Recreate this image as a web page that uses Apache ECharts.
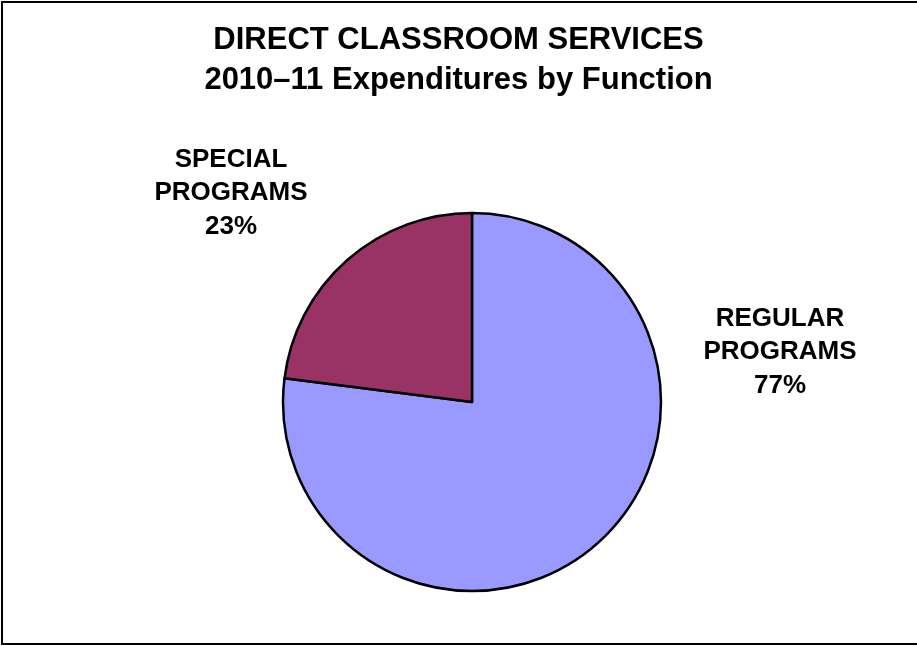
<!DOCTYPE html>
<html>
<head>
<meta charset="utf-8">
<title>Direct Classroom Services</title>
<script src="https://cdn.jsdelivr.net/npm/echarts@6/dist/echarts.min.js"></script>
<style>
  html, body { margin: 0; padding: 0; background: #ffffff; }
  #chart { width: 917px; height: 646px; }
</style>
</head>
<body>
<div id="chart"></div>
<script>
// Expenditure shares by function, 2010–11
var categories = ['REGULAR PROGRAMS', 'SPECIAL PROGRAMS'];
var shares = [77, 23];
var sliceColors = ['#9999FF', '#993366'];

var titleLines = ['DIRECT CLASSROOM SERVICES', '2010\u201311 Expenditures by Function'];

var FONT = 'Arial, "Liberation Sans", Helvetica, sans-serif';

var chart = echarts.init(document.getElementById('chart'), null, { renderer: 'canvas' });

// Label anchors, offset from the pie centre
var pieCenter = [472, 402];
var labelOffsets = [[308, -50], [-241, -209]];

var option = {
  backgroundColor: '#ffffff',
  animation: false,
  title: {
    text: titleLines.join('\n'),
    left: 'center',
    top: 20,
    padding: 0,
    textStyle: {
      fontFamily: FONT,
      fontWeight: 'bold',
      fontSize: 31,
      lineHeight: 40,
      color: '#000000'
    }
  },
  graphic: [{
    type: 'rect',
    silent: true,
    shape: { x: 2, y: 2, width: 940, height: 642 },
    style: { fill: 'none', stroke: '#000000', lineWidth: 2 },
    z: 10
  }],
  series: [{
    type: 'pie',
    center: pieCenter,
    radius: 189,
    startAngle: 90,
    clockwise: true,
    silent: true,
    data: categories.map(function (name, i) {
      return { name: name, value: shares[i], itemStyle: { color: sliceColors[i] } };
    }),
    itemStyle: { borderColor: '#000000', borderWidth: 2.5 },
    label: {
      show: true,
      position: 'outside',
      fontFamily: FONT,
      fontWeight: 'bold',
      fontSize: 26,
      lineHeight: 33.5,
      color: '#000000',
      align: 'center',
      formatter: function (p) {
        return p.name.replace(' ', '\n') + '\n' + p.value + '%';
      }
    },
    labelLine: { show: false },
    labelLayout: function (p) {
      var off = labelOffsets[p.dataIndex];
      return {
        x: pieCenter[0] + off[0],
        y: pieCenter[1] + off[1],
        align: 'center',
        verticalAlign: 'middle'
      };
    }
  }]
};

chart.setOption(option);
</script>
</body>
</html>
